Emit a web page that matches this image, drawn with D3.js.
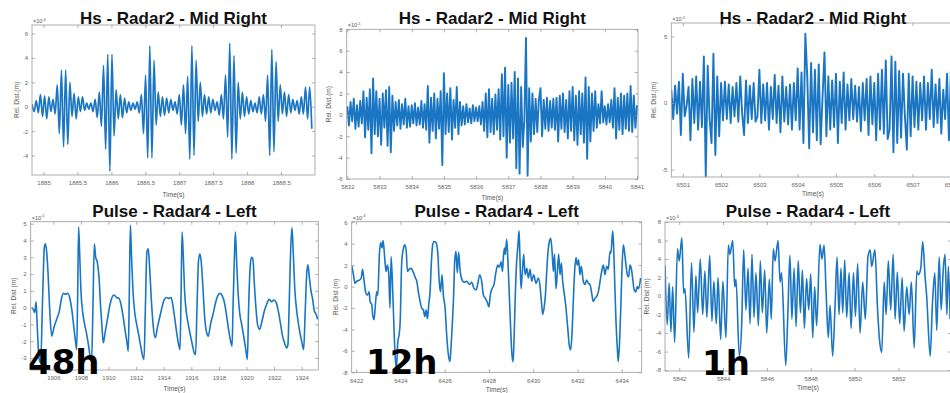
<!DOCTYPE html>
<html>
<head>
<meta charset="utf-8">
<script src="https://cdn.jsdelivr.net/npm/d3@7"></script>
<style>
  body { margin: 0; background: #fff; }
  svg { display: block; }
  .tick text { font-family: "Liberation Sans", Arial, sans-serif; font-size: 6px; fill: #666; }
  .tick line { stroke: #999; stroke-width: 0.8; }
</style>
</head>
<body>
<div id="chart-area"></div>
<script>
// ---- titles / labels ----
const hsTitle = "Hs - Radar2 - Mid Right";
const pulseTitle = "Pulse - Radar4 - Left";
const durationLabels = ["48h", "12h", "1h"];

// ---- Hs 48h (x10^-6 m), sampled every hs48Step s ----
const hs48Start = 1884.83, hs48Step = 0.031;
const hs48Values = [
  0.2,-0.4,0.5,-0.5,1.0,-0.8,0.9,-1.0,0.8,-0.4,
  0.6,-0.6,1.8,-2.2,3.0,-3.3,3.0,-3.1,2.0,-0.8,
  1.1,-1.0,0.8,-0.4,0.8,-0.3,0.3,-0.2,0.3,-0.4,
  0.6,-0.9,1.2,-1.6,3.4,-3.5,4.3,-5.3,4.3,-2.4,
  1.4,-1.0,1.0,-0.9,0.7,-0.5,0.4,-0.3,0.3,-0.2,
  0.4,-0.5,1.0,-2.2,2.6,-4.2,5.0,-4.2,3.8,-1.5,
  1.2,-0.8,0.8,-0.7,0.7,-0.5,0.6,-0.3,0.4,-0.6,
  1.0,-1.5,1.8,-2.2,2.5,-4.3,5.0,-4.0,3.8,-1.2,
  2.0,-0.8,1.0,-0.6,0.8,-0.5,0.6,-0.3,0.4,-0.7,
  1.0,-1.0,2.6,-2.5,5.2,-4.3,4.2,-3.8,2.0,-1.0,
  1.2,-0.8,0.8,-0.6,0.5,-0.4,0.3,-0.5,0.8,-0.6,
  1.0,-1.2,2.6,-4.0,4.7,-3.7,3.7,-1.2,1.8,-0.6,
  1.2,-0.8,1.0,-0.5,0.6,-0.3,0.5,-0.6,0.8,-0.6,
  1.6,-1.0,1.6,-1.8
];
const hs48XTicks = [1885, 1885.5, 1886, 1886.5, 1887, 1887.5, 1888, 1888.5];
const hs48YTicks = [-4, -2, 0, 2, 4, 6];

// ---- Hs 12h (x10^-5 m) ----
const hs12Start = 5832.0, hs12Step = 0.05;
const hs12Values = [
  0.8,-1.0,1.2,-0.6,1.5,-1.3,0.9,-1.1,1.3,-0.8,
  2.2,-2.1,1.6,-1.4,2.4,-3.6,3.4,-1.8,2.2,-2.0,
  1.5,-2.8,2.0,-1.2,2.3,-2.9,2.6,-3.5,1.8,-1.5,
  1.2,-1.0,1.4,-1.3,1.0,-0.9,1.5,-1.2,0.8,-1.1,
  0.9,-0.8,1.1,-1.0,0.7,-0.9,1.3,-1.2,1.0,-1.4,
  2.7,-2.6,1.6,-1.5,2.0,-2.2,1.5,-1.3,2.2,-4.7,
  3.9,-1.8,2.0,-1.6,2.5,-2.3,1.4,-1.2,2.6,-1.8,
  1.2,-1.0,0.8,-0.9,1.0,-0.7,0.6,-0.8,0.9,-0.6,
  0.7,-0.6,0.8,-0.9,1.2,-1.5,2.0,-2.1,2.4,-1.6,
  1.5,-1.8,1.9,-1.4,2.4,-2.3,3.8,-2.0,4.4,-4.0,
  2.8,-2.6,3.0,-2.2,4.0,-5.0,3.4,-5.5,2.6,-3.0,
  -0.5,7.2,-5.7,2.5,-2.5,2.0,-1.8,1.5,-1.6,1.4,
  2.5,-2.0,1.4,-1.3,1.6,-1.5,1.3,-1.2,1.5,-1.4,
  1.6,-2.5,1.8,-1.3,2.0,-1.6,1.4,-2.2,2.2,-1.5,
  2.6,-2.4,1.8,-2.8,2.2,-1.8,2.0,-2.6,3.5,-4.1,
  2.6,-2.5,2.0,-1.5,2.2,-1.2,1.0,-0.8,2.2,-0.7,
  0.8,-0.9,1.0,-0.7,1.4,-1.2,2.5,-2.2,1.6,-1.4,
  2.0,-1.8,1.8,-1.3,2.0,-1.5,2.7,-1.6,1.8,-1.2,
  0.9
];
const hs12XTicks = [5832, 5833, 5834, 5835, 5836, 5837, 5838, 5839, 5840, 5841];
const hs12YTicks = [-6, -4, -2, 0, 2, 4, 6, 8];

// ---- Hs 1h (x10^-5 m) ----
const hs1Start = 6500.7, hs1Step = 0.05;
const hs1Values = [
  1.0,-1.2,1.3,-0.8,1.6,-2.4,2.2,-1.0,-0.2,1.2,
  -2.8,1.8,-1.5,2.0,-2.0,1.6,-1.8,3.5,-5.5,2.8,
  -1.2,-3.0,3.7,-3.9,2.0,-2.5,1.5,-1.3,1.6,-1.2,
  1.4,-1.5,1.2,-1.0,1.5,-1.4,2.0,-0.8,-2.4,1.7,
  -1.5,1.3,-1.2,1.5,-1.4,-1.0,2.5,-1.5,1.4,-1.3,
  1.5,-2.0,1.2,-1.2,2.1,-1.5,1.3,-2.2,2.0,-1.4,
  1.2,-1.6,1.4,-2.0,1.5,-1.3,2.6,-2.0,2.3,-3.0,
  5.2,2.0,-3.4,3.0,-2.2,2.5,-2.8,2.9,-3.1,0.5,
  3.8,-2.5,2.0,-2.0,1.7,-1.8,2.2,-3.0,1.6,-1.5,
  2.3,-2.0,1.4,-1.3,1.8,-1.2,1.3,-1.4,1.2,-2.1,
  1.5,-1.3,1.8,-2.4,2.0,-1.6,1.5,-2.8,2.2,-2.0,
  2.5,-2.3,3.2,-2.7,-2.0,3.5,-3.7,3.1,-3.0,2.4,
  -2.6,2.2,-1.0,-3.5,2.2,-2.5,2.0,-1.8,1.6,-2.0,
  1.5,-1.3,2.0,-2.0,1.5,-1.2,2.5,-1.8,1.4,-1.5,
  1.8,-2.3,1.0,-1.2,2.2,-2.8,2.4,-1.4,0.8
];
const hs1XTicks = [6501, 6502, 6503, 6504, 6505, 6506, 6507, 6508];
const hs1YTicks = [-5, 0, 5];

// ---- Pulse 48h (x10^-5 m) ----
const pulse48Times = [
  1904.43,1904.55,1904.65,1904.75,1904.84,1904.96,1905.08,1905.23,1905.35,1905.42,
  1905.52,1905.62,1905.73,1905.88,1906.04,1906.24,1906.44,1906.58,1906.72,1906.89,
  1907.06,1907.21,1907.35,1907.49,1907.62,1907.69,1907.76,1907.83,1907.91,1908.00,
  1908.13,1908.27,1908.42,1908.56,1908.68,1908.77,1908.87,1908.97,1909.07,1909.19,
  1909.31,1909.43,1909.53,1909.62,1909.77,1909.94,1910.11,1910.25,1910.39,1910.59,
  1910.76,1910.90,1911.05,1911.19,1911.34,1911.43,1911.50,1911.58,1911.67,1911.77,
  1911.90,1912.04,1912.18,1912.33,1912.47,1912.57,1912.67,1912.78,1912.88,1912.97,
  1913.10,1913.25,1913.39,1913.54,1913.73,1913.90,1914.05,1914.22,1914.39,1914.53,
  1914.65,1914.79,1914.94,1915.08,1915.18,1915.25,1915.33,1915.42,1915.51,1915.64,
  1915.78,1915.92,1916.07,1916.21,1916.31,1916.41,1916.52,1916.62,1916.72,1916.84,
  1916.96,1917.11,1917.23,1917.39,1917.60,1917.76,1917.91,1918.08,1918.24,1918.40,
  1918.54,1918.68,1918.82,1918.95,1919.02,1919.12,1919.19,1919.28,1919.38,1919.50,
  1919.65,1919.79,1919.93,1920.06,1920.15,1920.27,1920.36,1920.46,1920.56,1920.68,
  1920.80,1920.95,1921.12,1921.29,1921.46,1921.64,1921.81,1921.98,1922.15,1922.30,
  1922.47,1922.61,1922.75,1922.91,1923.00,1923.10,1923.20,1923.29,1923.39,1923.49,
  1923.61,1923.73,1923.87,1924.02,1924.14,1924.24,1924.36,1924.45,1924.55,1924.67,
  1924.79,1924.91,1925.04,1925.15
];
const pulse48Values = [
  0.0,-0.1,-0.3,0.35,-1.2,-3.0,-3.3,0.8,3.6,3.8,
  3.3,2.0,0.0,-1.7,-1.2,-0.7,-0.2,0.5,0.85,0.8,
  0.85,0.5,-0.2,-1.2,-2.1,-2.5,0.5,4.8,3.2,1.0,
  -0.3,-1.0,-1.6,-2.3,-3.0,-3.2,0.0,3.8,3.0,2.7,
  1.8,0.0,-1.2,-2.1,-1.4,-0.6,0.2,0.6,0.75,0.6,
  0.55,0.2,-0.5,-1.3,-2.1,-2.6,0.5,4.9,3.0,1.0,
  -0.3,-1.0,-1.6,-2.3,-2.9,-3.1,0.0,3.3,3.5,2.5,
  0.5,-1.2,-1.8,-1.2,-0.5,0.1,0.5,0.6,0.55,0.6,
  0.2,-0.6,-1.5,-2.2,-2.5,0.5,4.5,3.0,1.0,-0.3,
  -1.0,-1.6,-2.2,-2.7,-2.8,0.0,2.8,3.2,2.7,1.2,
  -0.5,-1.5,-1.7,-1.0,-0.3,0.3,0.7,0.85,0.7,0.3,
  -0.4,-1.2,-1.9,-2.3,0.0,3.0,4.5,2.8,1.0,-0.3,
  -1.0,-1.7,-2.4,-3.1,0.0,2.5,3.0,2.9,1.5,0.0,
  -1.0,-1.3,-0.8,-0.2,0.2,0.5,0.35,0.45,0.3,-0.2,
  -1.0,-1.7,-2.1,-2.4,-2.2,0.5,3.5,4.75,3.2,1.2,
  0.0,-0.8,-1.5,-2.1,-2.5,-0.5,2.0,2.55,1.8,1.0,
  0.5,-0.2,-0.4,-0.7
];
const pulse48XTicks = [1906, 1908, 1910, 1912, 1914, 1916, 1918, 1920, 1922, 1924];
const pulse48YTicks = [-3, -2, -1, 0, 1, 2, 3, 4, 5];

// ---- Pulse 12h (x10^-4 m) ----
const pulse12Times = [
  6421.80,6421.88,6421.95,6422.03,6422.15,6422.23,6422.29,6422.36,6422.44,6422.51,
  6422.59,6422.63,6422.71,6422.75,6422.81,6422.87,6422.93,6422.98,6423.05,6423.11,
  6423.17,6423.22,6423.29,6423.35,6423.41,6423.47,6423.53,6423.58,6423.66,6423.72,
  6423.78,6423.82,6423.88,6423.94,6423.99,6424.06,6424.14,6424.20,6424.26,6424.32,
  6424.39,6424.48,6424.59,6424.68,6424.74,6424.81,6424.89,6424.96,6425.04,6425.10,
  6425.16,6425.22,6425.28,6425.34,6425.40,6425.46,6425.52,6425.61,6425.69,6425.75,
  6425.81,6425.88,6425.94,6426.02,6426.09,6426.17,6426.24,6426.30,6426.35,6426.41,
  6426.45,6426.51,6426.57,6426.63,6426.70,6426.79,6426.88,6427.00,6427.12,6427.22,
  6427.33,6427.42,6427.49,6427.58,6427.67,6427.75,6427.84,6427.93,6428.00,6428.06,
  6428.14,6428.23,6428.32,6428.40,6428.47,6428.55,6428.61,6428.65,6428.70,6428.74,
  6428.80,6428.86,6428.92,6428.98,6429.04,6429.09,6429.13,6429.19,6429.25,6429.30,
  6429.36,6429.40,6429.45,6429.51,6429.57,6429.63,6429.71,6429.78,6429.86,6429.93,
  6430.02,6430.13,6430.23,6430.31,6430.37,6430.43,6430.49,6430.55,6430.61,6430.67,
  6430.73,6430.79,6430.85,6430.91,6430.96,6431.03,6431.09,6431.15,6431.21,6431.27,
  6431.33,6431.41,6431.48,6431.56,6431.63,6431.69,6431.75,6431.81,6431.87,6431.93,
  6431.99,6432.05,6432.11,6432.17,6432.26,6432.34,6432.41,6432.49,6432.56,6432.64,
  6432.71,6432.79,6432.87,6432.94,6433.02,6433.09,6433.17,6433.24,6433.32,6433.39,
  6433.47,6433.51,6433.59,6433.63,6433.68,6433.74,6433.80,6433.84,6433.90,6433.96,
  6434.01,6434.07,6434.13,6434.19,6434.25,6434.31,6434.37,6434.43,6434.49,6434.55,
  6434.63,6434.70,6434.76,6434.85
];
const pulse12Values = [
  2.0,1.1,0.3,0.5,0.6,0.8,1.6,0.5,-0.6,-0.8,
  -0.5,-1.4,-1.7,-2.7,-3.1,-1.7,-0.5,-0.8,3.0,4.1,
  3.6,4.3,2.7,1.4,2.0,1.3,-2.0,2.8,-0.8,-4.5,
  -7.0,-7.7,-5.2,-4.5,-3.3,2.3,3.6,3.9,3.4,1.4,
  1.6,1.7,1.3,0.8,0.5,-0.5,-1.4,-2.0,-2.2,-2.8,
  -2.2,-3.0,-1.7,-0.5,2.3,3.9,4.2,4.1,3.1,0.6,
  -0.5,1.1,-0.8,-2.0,-4.5,-6.4,-7.0,-5.2,-3.3,-0.5,
  2.3,3.3,1.3,3.2,1.4,0.6,0.4,0.5,0.2,0.4,
  -0.2,-0.3,0.2,1.1,0.5,-0.8,-1.1,-1.5,-1.9,-0.8,
  -0.2,0.2,1.4,2.0,1.8,2.3,1.4,2.7,3.6,3.0,
  4.4,2.3,-0.8,-3.9,-6.4,-7.0,-5.2,-0.8,2.3,3.6,
  5.2,2.7,-0.2,1.4,3.0,1.1,1.7,0.8,1.6,0.5,
  1.1,0.3,0.8,0.0,-1.4,-2.6,-2.0,-0.8,1.4,3.3,
  4.2,4.5,3.3,1.4,3.0,-0.2,1.4,3.0,1.1,2.2,
  0.5,-0.8,-2.0,-3.9,-5.5,-5.9,-4.5,-1.4,1.4,2.7,
  2.0,2.5,1.1,1.9,0.5,0.2,0.6,0.3,0.2,-0.6,
  -1.4,-1.1,-0.9,-0.5,0.5,1.4,2.0,1.1,1.9,1.6,
  3.3,3.1,5.2,3.9,0.5,-3.3,-5.8,-7.0,-5.2,-1.7,
  1.7,3.9,3.1,2.0,1.1,0.9,2.0,1.7,0.8,-0.2,
  -0.5,0.0,-0.2,0.8
];
const pulse12XTicks = [6422, 6424, 6426, 6428, 6430, 6432, 6434];
const pulse12YTicks = [-8, -6, -4, -2, 0, 2, 4, 6];

// ---- Pulse 1h (x10^-4 m) ----
const pulse1Times = [
  5841.35,5841.45,5841.54,5841.62,5841.70,5841.79,5841.92,5842.00,5842.12,5842.20,
  5842.26,5842.43,5842.56,5842.67,5842.76,5842.84,5842.96,5843.07,5843.17,5843.26,
  5843.39,5843.49,5843.58,5843.69,5843.77,5843.89,5843.99,5844.13,5844.24,5844.31,
  5844.44,5844.53,5844.59,5844.74,5844.85,5844.94,5845.04,5845.14,5845.23,5845.32,
  5845.41,5845.50,5845.61,5845.70,5845.79,5845.90,5845.99,5846.11,5846.20,5846.29,
  5846.37,5846.51,5846.60,5846.67,5846.86,5846.96,5847.05,5847.14,5847.24,5847.33,
  5847.43,5847.53,5847.62,5847.71,5847.81,5847.91,5848.00,5848.09,5848.18,5848.27,
  5848.42,5848.51,5848.61,5848.70,5848.80,5848.88,5849.00,5849.11,5849.20,5849.29,
  5849.38,5849.46,5849.55,5849.64,5849.75,5849.84,5849.95,5850.04,5850.14,5850.25,
  5850.37,5850.49,5850.61,5850.71,5850.78,5850.93,5851.04,5851.13,5851.24,5851.35,
  5851.44,5851.54,5851.65,5851.76,5851.85,5851.95,5852.06,5852.17,5852.26,5852.38,
  5852.49,5852.59,5852.72,5852.84,5852.91,5853.02,5853.11,5853.22,5853.29,5853.45,
  5853.55,5853.66,5853.75,5853.86,5853.95,5854.05,5854.13,5854.21,5854.28,5854.36
];
const pulse1Values = [
  3.3,-3.1,1.4,-3.9,1.0,-5.0,5.1,3.8,6.3,0.3,
  0.8,-6.7,3.6,-3.9,2.2,-1.8,4.0,-2.0,2.7,-2.3,
  4.4,-2.7,1.6,-3.0,2.0,-4.7,1.6,-4.5,5.5,4.5,
  6.0,1.0,1.8,-6.5,-3.0,5.0,-1.5,3.0,-3.0,4.5,
  -2.3,2.5,-3.2,3.8,-1.8,2.8,-4.0,1.8,-2.5,5.1,
  3.8,6.0,1.5,2.5,-7.5,-1.5,4.4,-2.5,3.0,-3.3,
  3.8,-1.8,2.8,-3.5,1.9,-1.5,2.4,-4.5,1.0,-3.2,
  5.6,4.0,5.5,0.5,-4.5,-1.0,-6.5,-1.0,4.2,-2.0,
  3.0,-1.8,3.9,-2.3,2.5,-3.5,2.5,-2.2,3.5,-4.0,
  1.5,-2.5,4.2,5.0,3.2,5.0,-1.0,-4.5,-6.1,1.5,
  -2.0,3.8,-1.5,4.5,-2.5,2.6,-3.0,2.0,-3.8,1.0,
  -2.0,1.5,-5.6,2.7,2.3,3.0,5.9,2.0,0.0,-6.5,
  -1.0,2.5,-3.7,4.2,-1.5,3.0,4.5,-2.0,3.2,-2.5
];
const pulse1XTicks = [5842, 5844, 5846, 5848, 5850, 5852];
const pulse1YTicks = [-8, -6, -4, -2, 0, 2, 4, 6, 8];

// ---- drawing ----
const LINE_COLOR = "#1a75c2";
const AXIS_COLOR = "#9a9a9a";
const TEXT_COLOR = "#555";

const uniformPoints = (start, step, values) => values.map((v, i) => ({ t: start + i * step, v }));
const pairedPoints = (times, values) => times.map((t, i) => ({ t, v: values[i] }));

const panels = [
  { id: "hs48", title: hsTitle, yLabel: "Rel. Dist.(m)", exponent: "-6",
    points: uniformPoints(hs48Start, hs48Step, hs48Values),
    xDomain: [1884.83, 1889.0], yDomain: [-5.6, 6.7], xTicks: hs48XTicks, yTicks: hs48YTicks,
    box: { left: 32, right: 315, top: 25, bottom: 175 }, curve: d3.curveMonotoneX, width: 1.7,
    titleY: 24, timeY: 197, yLabelX: 19 },
  { id: "hs12", title: hsTitle, yLabel: "Rel. Dist.(m)", exponent: "-5",
    points: uniformPoints(hs12Start, hs12Step, hs12Values),
    xDomain: [5831.98, 5841.03], yDomain: [-6, 8], xTicks: hs12XTicks, yTicks: hs12YTicks,
    box: { left: 346.7, right: 638, top: 29.3, bottom: 179 }, curve: d3.curveLinear, width: 1.9,
    titleY: 24, timeY: 200, yLabelX: 331 },
  { id: "hs1", title: hsTitle, yLabel: "Rel. Dist.(m)", exponent: "-5",
    points: uniformPoints(hs1Start, hs1Step, hs1Values),
    xDomain: [6500.7, 6508.1], yDomain: [-5.55, 6.0], xTicks: hs1XTicks, yTicks: hs1YTicks,
    box: { left: 671.3, right: 954.7, top: 23, bottom: 177 }, curve: d3.curveLinear, width: 1.9,
    titleY: 24, timeY: 196, yLabelX: 656 },
  { id: "pulse48", title: pulseTitle, yLabel: "Rel. Dist (m)", exponent: "-5",
    points: pairedPoints(pulse48Times, pulse48Values),
    xDomain: [1904.36, 1925.2], yDomain: [-3.72, 5.12], xTicks: pulse48XTicks, yTicks: pulse48YTicks,
    box: { left: 30.7, right: 318.3, top: 221.7, bottom: 370 }, curve: d3.curveMonotoneX, width: 1.6,
    titleY: 217, timeY: 391, yLabelX: 16 },
  { id: "pulse12", title: pulseTitle, yLabel: "Rel. Dist (m)", exponent: "-4",
    points: pairedPoints(pulse12Times, pulse12Values),
    xDomain: [6421.8, 6434.9], yDomain: [-8, 6.05], xTicks: pulse12XTicks, yTicks: pulse12YTicks,
    box: { left: 351.7, right: 641.7, top: 221.7, bottom: 372.3 }, curve: d3.curveMonotoneX, width: 1.6,
    titleY: 217, timeY: 392, yLabelX: 338 },
  { id: "pulse1", title: pulseTitle, yLabel: "Rel. Dist (m)", exponent: "-4",
    points: pairedPoints(pulse1Times, pulse1Values),
    xDomain: [5841.35, 5854.4], yDomain: [-8.1, 8], xTicks: pulse1XTicks, yTicks: pulse1YTicks,
    box: { left: 665, right: 951, top: 222, bottom: 371 }, curve: d3.curveMonotoneX, width: 1.6,
    titleY: 217, timeY: 390, yLabelX: 649 }
];

const svg = d3.select("#chart-area")
  .append("svg")
    .attr("width", 950)
    .attr("height", 393);

svg.append("rect").attr("width", 950).attr("height", 393).attr("fill", "#fff");

const drawPanel = (p) => {
  const g = svg.append("g").attr("class", "panel " + p.id);
  const b = p.box;
  const x = d3.scaleLinear().domain(p.xDomain).range([b.left, b.right]);
  const y = d3.scaleLinear().domain(p.yDomain).range([b.bottom, b.top]);
  const fmt = d => String(d);

  // clip trace to the axes box
  g.append("clipPath").attr("id", "clip-" + p.id)
    .append("rect")
      .attr("x", b.left).attr("y", b.top)
      .attr("width", b.right - b.left).attr("height", b.bottom - b.top);

  const line = d3.line().x(d => x(d.t)).y(d => y(d.v)).curve(p.curve);
  g.append("path")
    .datum(p.points)
    .attr("clip-path", `url(#clip-${p.id})`)
    .attr("fill", "none")
    .attr("stroke", LINE_COLOR)
    .attr("stroke-width", p.width)
    .attr("stroke-linejoin", "round")
    .attr("d", line);

  // matlab style: ticks inside on all four sides
  g.append("g").attr("transform", `translate(0, ${b.bottom})`)
    .call(d3.axisBottom(x).tickValues(p.xTicks).tickFormat(fmt).tickSizeInner(-3).tickSizeOuter(0).tickPadding(6))
    .call(a => a.select(".domain").remove());
  g.append("g").attr("transform", `translate(0, ${b.top})`)
    .call(d3.axisTop(x).tickValues(p.xTicks).tickFormat("").tickSizeInner(-3).tickSizeOuter(0))
    .call(a => a.select(".domain").remove());
  g.append("g").attr("transform", `translate(${b.left}, 0)`)
    .call(d3.axisLeft(y).tickValues(p.yTicks).tickFormat(fmt).tickSizeInner(-3).tickSizeOuter(0).tickPadding(4))
    .call(a => a.select(".domain").remove());
  g.append("g").attr("transform", `translate(${b.right}, 0)`)
    .call(d3.axisRight(y).tickValues(p.yTicks).tickFormat("").tickSizeInner(-3).tickSizeOuter(0))
    .call(a => a.select(".domain").remove());

  g.append("rect")
    .attr("x", b.left).attr("y", b.top)
    .attr("width", b.right - b.left).attr("height", b.bottom - b.top)
    .attr("fill", "none").attr("stroke", AXIS_COLOR).attr("stroke-width", 0.8);

  // exponent label above the y axis
  const ex = g.append("text")
    .attr("x", b.left + 1).attr("y", b.top - 2)
    .attr("font-family", "Liberation Sans, Arial, sans-serif")
    .attr("font-size", "5.5px").attr("fill", TEXT_COLOR)
    .text("\u00d710");
  ex.append("tspan").attr("dy", -2.5).attr("font-size", "4px").text(p.exponent);

  // title + axis labels
  g.append("text")
    .attr("x", (b.left + b.right) / 2).attr("y", p.titleY)
    .attr("text-anchor", "middle")
    .attr("font-family", "Liberation Sans, Arial, sans-serif")
    .attr("font-weight", "bold").attr("font-size", "17px").attr("fill", "#111")
    .text(p.title);

  g.append("text")
    .attr("x", (b.left + b.right) / 2).attr("y", p.timeY)
    .attr("text-anchor", "middle")
    .attr("font-family", "Liberation Sans, Arial, sans-serif")
    .attr("font-size", "6.5px").attr("fill", TEXT_COLOR)
    .text("Time(s)");

  g.append("text")
    .attr("transform", `translate(${p.yLabelX}, ${(b.top + b.bottom) / 2}) rotate(-90)`)
    .attr("text-anchor", "middle")
    .attr("font-family", "Liberation Sans, Arial, sans-serif")
    .attr("font-size", "6.5px").attr("fill", TEXT_COLOR)
    .text(p.yLabel);
};

panels.forEach(drawPanel);

// big duration labels over the bottom row
const labelPos = [{ x: 28, y: 374 }, { x: 366, y: 374 }, { x: 702, y: 375 }];
svg.selectAll(".duration")
  .data(durationLabels)
  .enter()
  .append("text")
    .attr("class", "duration")
    .attr("x", (d, i) => labelPos[i].x)
    .attr("y", (d, i) => labelPos[i].y)
    .attr("font-family", "DejaVu Sans, Verdana, sans-serif")
    .attr("font-weight", "bold")
    .attr("font-size", "34px")
    .attr("fill", "#000")
    .text(d => d);
</script>
</body>
</html>
